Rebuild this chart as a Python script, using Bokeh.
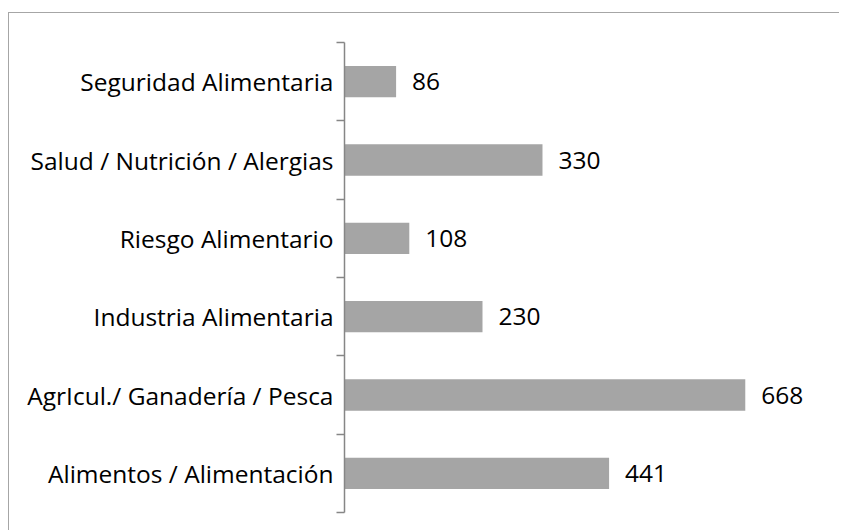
from bokeh.plotting import figure
from bokeh.models import ColumnDataSource, FixedTicker, Range1d
from bokeh.core.properties import value
from bokeh.embed import file_html
from bokeh.resources import INLINE

categories = [
    "Alimentos / Alimentación",
    "AgrIcul./ Ganadería / Pesca",
    "Industria Alimentaria",
    "Riesgo Alimentario",
    "Salud / Nutrición / Alergias",
    "Seguridad Alimentaria",
]
counts = [441, 668, 230, 108, 330, 86]

FONT = "Open Sans"
n = len(categories)
ypos = [i + 0.5 for i in range(n)]

src = ColumnDataSource(dict(
    y=ypos,
    v=counts,
    lbl=[str(c) for c in counts],
))

p = figure(
    width=831, height=518,
    output_backend="svg", toolbar_location=None,
    x_range=Range1d(0, 811.7), y_range=Range1d(0, n),
    min_border_left=335, min_border_right=9,
    min_border_top=29, min_border_bottom=19,
)
p.margin = (12, 0, 0, 8)
p.styles = {"border-top": "1px solid #A6A6A6", "border-left": "1px solid #A6A6A6"}
p.outline_line_color = None
p.xgrid.visible = False
p.ygrid.visible = False
p.xaxis.visible = False

p.hbar(y="y", left=0, right="v", height=0.4, source=src,
       fill_color="#A5A5A5", line_color=None)

p.text(x="v", y="y", text="lbl", source=src, x_offset=16,
       text_baseline="middle", text_align="left",
       text_font=value(FONT), text_font_size="24.5px", text_color="#000000")

ax = p.yaxis[0]
ax.ticker = FixedTicker(ticks=ypos, minor_ticks=list(range(n + 1)))
ax.major_label_overrides = {y: c for y, c in zip(ypos, categories)}
ax.axis_line_color = "#868686"
ax.axis_line_width = 1.5
ax.major_tick_line_color = None
ax.major_tick_out = 0
ax.major_tick_in = 0
ax.minor_tick_line_color = "#868686"
ax.minor_tick_line_width = 1.5
ax.minor_tick_out = 8
ax.minor_tick_in = 0
ax.major_label_standoff = 3
ax.major_label_text_font = FONT
ax.major_label_text_font_size = "24.5px"
ax.major_label_text_color = "#000000"

open("out.html", "w").write(file_html(p, INLINE))
